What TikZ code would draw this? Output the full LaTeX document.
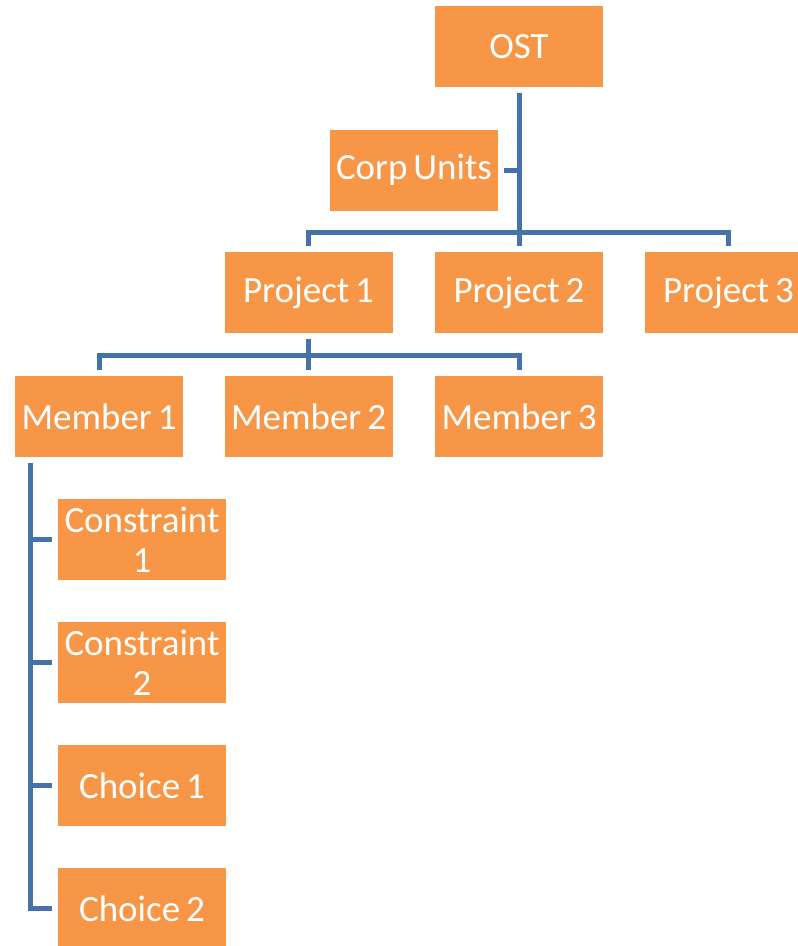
\documentclass[tikz,border=0pt]{standalone}
\usepackage{fontspec}
\setmainfont{Carlito}[WordSpace=0.7]
\usepackage{tikz}
\usetikzlibrary{positioning, calc}

\definecolor{boxorange}{HTML}{F79646}
\definecolor{linkblue}{HTML}{4672AA}

\tikzset{
    orgbox/.style={fill=boxorange, text=white, minimum width=168pt, minimum height=81pt,
        inner sep=0pt, outer sep=6pt, align=center,
        font=\fontsize{37}{40}\selectfont},
    link/.style={draw=linkblue, line width=5pt}
}

\begin{document}
\begin{tikzpicture}[x=1pt, y=-1pt]
    \useasboundingbox (0,0) rectangle (798,946);
    \clip (0,0) rectangle (798,946);

    % boxes
    \node[orgbox] (ost) at (519,46.5) {OST};
    \node[orgbox] (corp) at (414,170) {Corp Units};
    \node[orgbox] (proj1) at (308.5,292.5) {Project 1};
    \node[orgbox] (proj2) at (519,292.5) {Project 2};
    \node[orgbox] (proj3) at (728.5,292.5) {Project 3};
    \node[orgbox] (mem1) at (99,416.5) {Member 1};
    \node[orgbox] (mem2) at (308.5,416.5) {Member 2};
    \node[orgbox] (mem3) at (519,416.5) {Member 3};
    \node[orgbox] (con1) at (142,539.5) {Constraint\\1};
    \node[orgbox] (con2) at (142,662.5) {Constraint\\2};
    \node[orgbox] (cho1) at (142,785.5) {Choice 1};
    \node[orgbox] (cho2) at (142,908.5) {Choice 2};

    \coordinate (pbar) at (519,232);
    \coordinate (mbar) at (308.5,355);
    \coordinate (trunk) at (30,463);

    % connectors
    \draw[link] (ost.south) -- (proj2.north);
    \draw[link] (corp.east) -- (corp.east -| ost.south);
    \draw[link] (proj1.north) |- (pbar) -| (proj3.north);
    \draw[link] (proj1.south) -- (mem2.north);
    \draw[link] (mem1.north) |- (mbar) -| (mem3.north);
    \draw[link] (mem1.south -| trunk) |- (cho2.west);
    \foreach \n in {con1, con2, cho1}
        \draw[link] (\n.west -| trunk) -- (\n.west);
\end{tikzpicture}
\end{document}
